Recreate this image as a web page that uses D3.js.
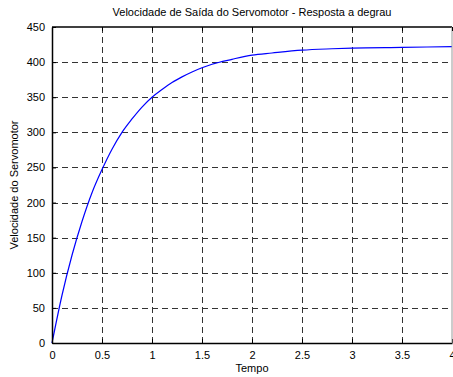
<!DOCTYPE html>
<html>
<head>
<meta charset="utf-8">
<script src="https://cdn.jsdelivr.net/npm/d3@7"></script>
<style>
  body { margin: 0; background: #fff; }
  svg { display: block; font-family: "Liberation Sans", Arial, sans-serif; }
</style>
</head>
<body>
<div id="chart"></div>
<script>
// values
var tempo = [0, 0.1, 0.2, 0.3, 0.4, 0.5, 0.6, 0.7, 0.8, 0.9, 1.0, 1.1, 1.2, 1.3, 1.4,
  1.5, 1.6, 1.8, 2.0, 2.2, 2.5, 2.8, 3.0, 3.5, 4.0];
var velocidade = [0, 68, 125, 173, 214, 247, 276, 300, 319, 336, 350, 361, 371, 379, 386,
  392, 397, 404, 410, 413, 417, 419, 420, 421, 422];
var xTicks = [0, 0.5, 1, 1.5, 2, 2.5, 3, 3.5, 4];
var yTicks = [0, 50, 100, 150, 200, 250, 300, 350, 400, 450];

var W = 453, H = 377;
var margin = { top: 27, right: 1, bottom: 34, left: 52 },
  width = W - margin.left - margin.right,
  height = H - margin.top - margin.bottom;

var svg = d3.select("#chart").append("svg")
  .attr("width", W)
  .attr("height", H);

var g = svg.append("g")
  .attr("transform", "translate(" + margin.left + "," + margin.top + ")");

var x = d3.scaleLinear().domain([0, 4]).range([0, width]);
var y = d3.scaleLinear().domain([0, 450]).range([height, 0]);

// dashed grid
g.append("g").selectAll("line")
  .data(xTicks.slice(1, -1))
  .enter().append("line")
  .attr("x1", (d) => x(d) + 0.5).attr("x2", (d) => x(d) + 0.5)
  .attr("y1", 0).attr("y2", height)
  .attr("stroke", "#333").attr("stroke-dasharray", "6,4");
g.append("g").selectAll("line")
  .data(yTicks.slice(1, -1))
  .enter().append("line")
  .attr("y1", (d) => Math.round(y(d)) + 0.5).attr("y2", (d) => Math.round(y(d)) + 0.5)
  .attr("x1", 0).attr("x2", width)
  .attr("stroke", "#333").attr("stroke-dasharray", "6,4");

// curve
var line = d3.line()
  .x((d, i) => x(tempo[i]))
  .y((d) => y(d))
  .curve(d3.curveMonotoneX);
g.append("path")
  .datum(velocidade)
  .attr("d", line)
  .attr("fill", "none")
  .attr("stroke", "#0000ff")
  .attr("stroke-width", 1.2);

// axes (ticks inward)
var xAxis = g.append("g")
  .attr("transform", "translate(0," + height + ")")
  .call(d3.axisBottom(x).tickValues(xTicks).tickSizeInner(-4).tickSizeOuter(0)
    .tickPadding(8).tickFormat(d3.format("")));
var yAxis = g.append("g")
  .call(d3.axisLeft(y).tickValues(yTicks).tickSizeInner(-4).tickSizeOuter(0)
    .tickPadding(7));
[xAxis, yAxis].forEach(function (a) {
  a.selectAll("text").style("font-size", "11px").attr("fill", "#000");
  a.selectAll("line").attr("stroke", "#000");
  a.select(".domain").attr("stroke", "#000").attr("stroke-width", 1.5);
  a.attr("font-family", null);
});

// top and right box edges
g.append("line").attr("x1", 0).attr("x2", width).attr("y1", 0).attr("y2", 0)
  .attr("stroke", "#000").attr("stroke-width", 1.5);
g.append("line").attr("x1", width).attr("x2", width).attr("y1", 0).attr("y2", height)
  .attr("stroke", "#999");

// top / right inward ticks
g.append("g").selectAll("line")
  .data(xTicks)
  .enter().append("line")
  .attr("x1", (d) => x(d) + 0.5).attr("x2", (d) => x(d) + 0.5)
  .attr("y1", 0).attr("y2", 4).attr("stroke", "#000");

// title and labels
svg.append("text")
  .attr("x", margin.left + width / 2)
  .attr("y", 16)
  .attr("text-anchor", "middle")
  .style("font-size", "11px")
  .text("Velocidade de Saída do Servomotor - Resposta a degrau");

svg.append("text")
  .attr("x", margin.left + width / 2)
  .attr("y", 372)
  .attr("text-anchor", "middle")
  .style("font-size", "11px")
  .text("Tempo");

svg.append("text")
  .attr("transform", "rotate(-90)")
  .attr("x", -(margin.top + height / 2))
  .attr("y", 18)
  .attr("text-anchor", "middle")
  .style("font-size", "11px")
  .text("Velocidade do Servomotor");
</script>
</body>
</html>
